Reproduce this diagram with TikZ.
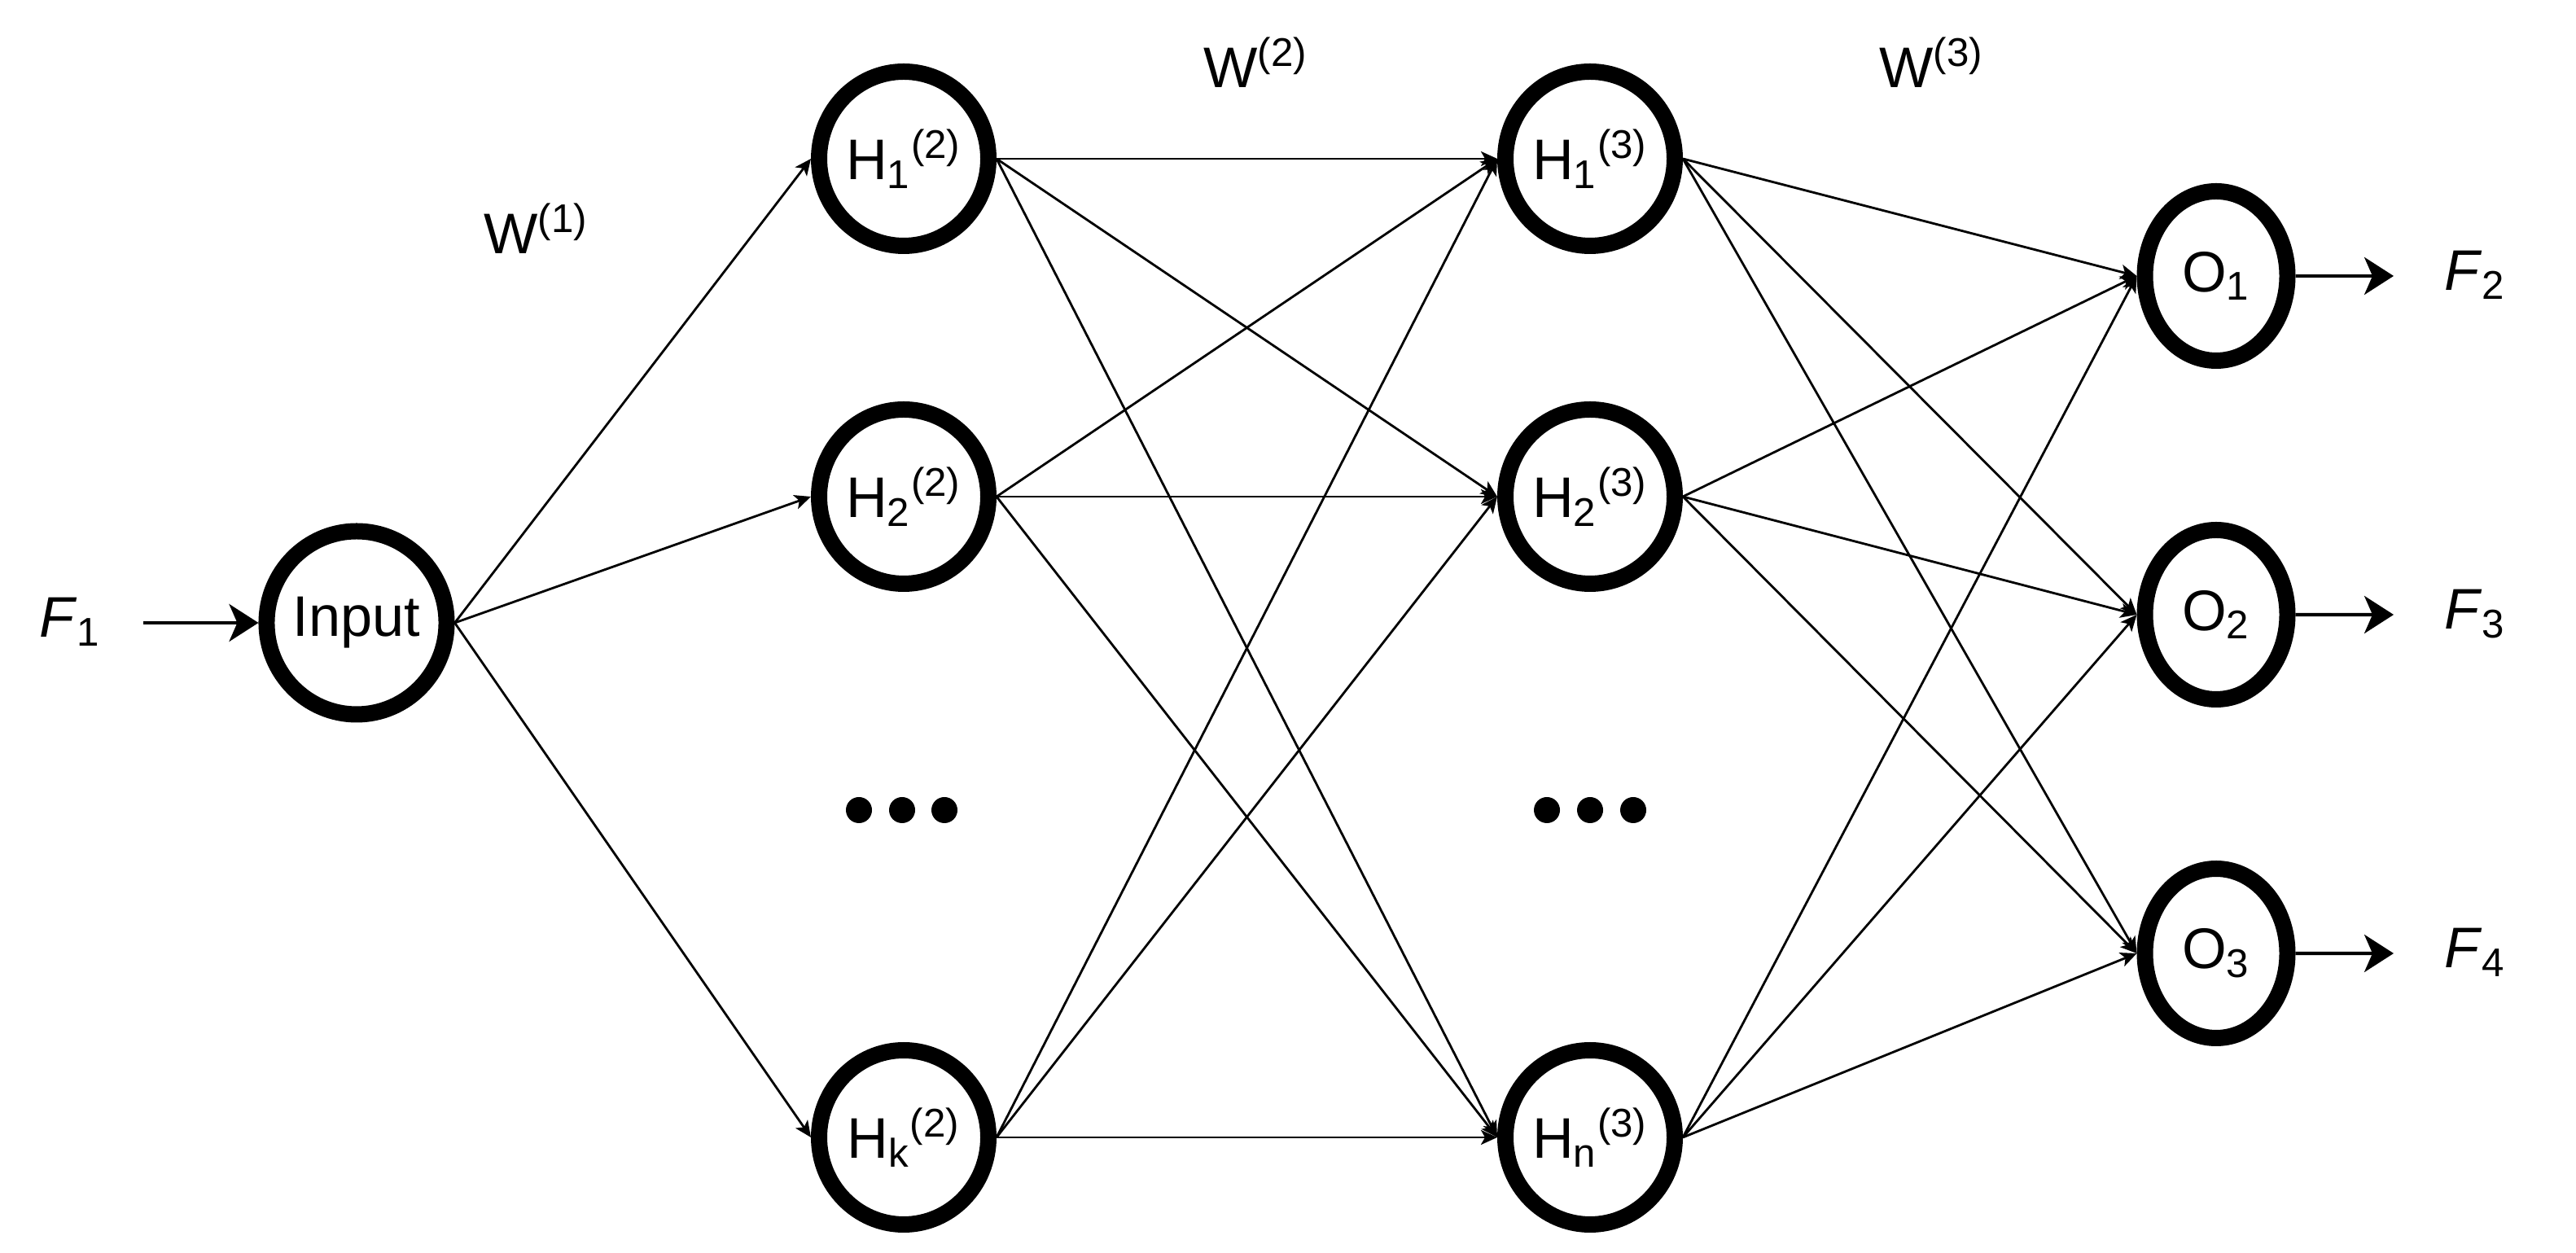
\documentclass[tikz,border=0pt]{standalone}
\usepackage{fontspec}
\setmainfont{Liberation Sans}
\usetikzlibrary{shapes.geometric,positioning,arrows.meta}

\begin{document}
\begin{tikzpicture}[on grid, font=\fontsize{20}{24}\selectfont,
    neuron/.style={ellipse, draw, line width=0.2cm, inner sep=0pt, minimum width=2.08cm, minimum height=2.14cm},
    outneuron/.style={neuron, minimum width=1.75cm, minimum height=2.08cm},
    link/.style={-{Stealth[length=0.2cm, width=0.18cm, inset=0.05cm]}, line width=0.8pt},
    feed/.style={-{Stealth[length=0.36cm, width=0.46cm, inset=0.1cm]}, line width=1.2pt}]

    \useasboundingbox (0,0) rectangle (31.64,15.39);

    \node[neuron, minimum width=2.06cm, minimum height=2.25cm] (in) at (4.38,7.74) {Input};

    \node[neuron] (h12) at (11.10,13.44) {H\textsubscript{1}\textsuperscript{(2)}};
    \node[neuron] (h22) [below=4.15cm of h12] {H\textsubscript{2}\textsuperscript{(2)}};
    \node[neuron] (hk2) [below=7.87cm of h22] {H\textsubscript{k}\textsuperscript{(2)}};

    \node[neuron] (h13) [right=8.43cm of h12] {H\textsubscript{1}\textsuperscript{(3)}};
    \node[neuron] (h23) [right=8.43cm of h22] {H\textsubscript{2}\textsuperscript{(3)}};
    \node[neuron] (hn3) [right=8.43cm of hk2] {H\textsubscript{n}\textsuperscript{(3)}};

    \node[outneuron] (o1) at (27.22,12.00) {O\textsubscript{1}};
    \node[outneuron] (o2) [below=4.16cm of o1] {O\textsubscript{2}};
    \node[outneuron] (o3) [below=4.16cm of o2] {O\textsubscript{3}};

    % dots for the hidden units left out
    \foreach \x in {10.55,11.08,11.60,19.00,19.53,20.06}
        \fill (\x,5.44) circle (0.16);

    \node[anchor=base west] (w1) at (5.82,12.27) {W\textsuperscript{(1)}};
    \node[anchor=base west] (w2) at (14.66,14.31) {W\textsuperscript{(2)}};
    \node[anchor=base west] (w3) at (22.96,14.31) {W\textsuperscript{(3)}};

    \coordinate (f1) at (1.76,7.74);
    \coordinate (f2) at (29.40,12.00);
    \coordinate (f3) at (29.40,7.84);
    \coordinate (f4) at (29.40,3.68);

    \node[anchor=base west] (lf1) at (0.36,7.56) {\textit{F}\textsubscript{1}};
    \node[anchor=base west] (lf2) at (29.90,11.82) {\textit{F}\textsubscript{2}};
    \node[anchor=base west] (lf3) at (29.90,7.66) {\textit{F}\textsubscript{3}};
    \node[anchor=base west] (lf4) at (29.90,3.50) {\textit{F}\textsubscript{4}};

    \draw[feed] (f1) -- (in.west);
    \draw[feed] (o1.east) -- (f2);
    \draw[feed] (o2.east) -- (f3);
    \draw[feed] (o3.east) -- (f4);

    \foreach \h in {h12,h22,hk2}
        \draw[link] (in.east) -- (\h.west);
    \foreach \a in {h12,h22,hk2}
        \foreach \b in {h13,h23,hn3}
            \draw[link] (\a.east) -- (\b.west);
    \foreach \a in {h13,h23,hn3}
        \foreach \b in {o1,o2,o3}
            \draw[link] (\a.east) -- (\b.west);

\end{tikzpicture}
\end{document}
